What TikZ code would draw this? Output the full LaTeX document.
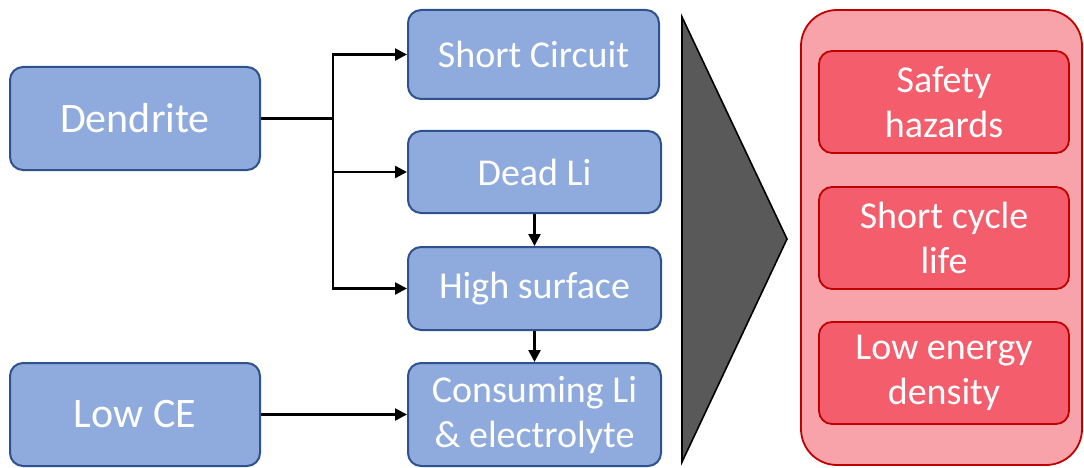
\documentclass[tikz,border=0pt]{standalone}
\usepackage{fontspec}
\setmainfont{Carlito}
\usetikzlibrary{arrows.meta}
\definecolor{bluefill}{HTML}{8FAADC}
\definecolor{blueline}{HTML}{2F528F}
\definecolor{redouter}{HTML}{F8A3AA}
\definecolor{redinner}{HTML}{F45E6C}
\definecolor{redline}{HTML}{C00000}
\definecolor{arrowgray}{HTML}{595959}
\tikzset{
  bluebox/.style={draw=blueline, fill=bluefill, line width=2pt, rounded corners=13pt,
    text=white, align=center, inner sep=0pt, font=\fontsize{38}{45}\selectfont},
  bigbox/.style={bluebox, font=\fontsize{42}{50}\selectfont, minimum width=250pt, minimum height=103pt},
  redbox/.style={draw=redline, fill=redinner, line width=1.8pt, rounded corners=13pt,
    text=white, align=center, inner sep=0pt, minimum width=250pt, minimum height=102pt,
    font=\fontsize{38}{45}\selectfont},
  conn/.style={line width=2.4pt, -{Triangle[length=12pt,width=12pt]}},
  plainconn/.style={line width=2.4pt}
}
\begin{document}
\begin{tikzpicture}[x=1pt,y=-1pt]
\useasboundingbox (0,0) rectangle (1084,468);
% left boxes
\node[bigbox] (den) at (135,118.5) {Dendrite};
\node[bigbox] (lce) at (135,414.5) {Low CE};
% middle boxes
\node[bluebox, minimum width=251pt, minimum height=89pt] (sc) at (533.5,54.5) {Short Circuit};
\node[bluebox, minimum width=253pt, minimum height=82pt] (dl) at (534.5,172) {Dead Li};
\node[bluebox, minimum width=253pt, minimum height=83pt] (hs) at (534.5,288.5) {High surface};
\node[bluebox, minimum width=253pt, minimum height=103pt] (co) at (534.5,414.5) {Consuming Li\\\& electrolyte};
% connectors
\coordinate (j) at (333,118.5);
\draw[plainconn] (den.east) -- (j);
\draw[conn] (j) |- (sc.west);
\draw[conn] (j) |- (dl.west);
\draw[conn] (j) |- (hs.west);
\draw[conn] (lce.east) -- (co.west);
\draw[conn] (dl.south) -- (hs.north);
\draw[conn] (hs.south) -- (co.north);
% big arrow
\draw[fill=arrowgray, line width=1.6pt, line join=miter] (682,17) -- (787,239) -- (682,462) -- cycle;
% right panel
\node[draw=redline, fill=redouter, line width=1.8pt, rounded corners=36pt,
  minimum width=281pt, minimum height=455pt, inner sep=0pt] (panel) at (941.5,237.5) {};
\node[redbox] (sh) at (944,102) {Safety\\hazards};
\node[redbox] (scl) at (944,238) {Short cycle\\life};
\node[redbox] (led) at (944,373) {Low energy\\density};
\end{tikzpicture}
\end{document}
